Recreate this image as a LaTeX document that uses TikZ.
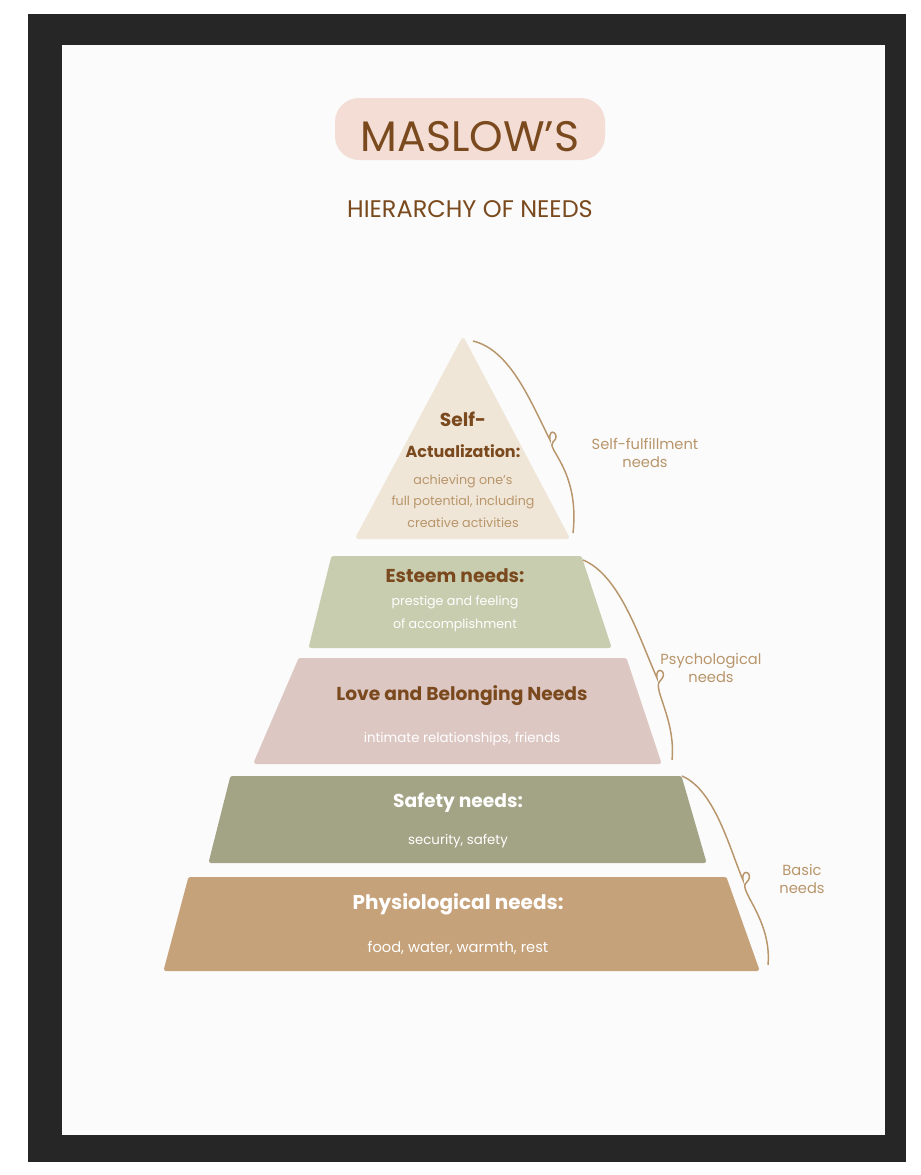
\documentclass[tikz,border=0pt]{standalone}
\usepackage{fontspec}
\setmainfont{Poppins}
\begin{document}
\begin{tikzpicture}[x=0.75pt,y=-0.75pt,
  lvl/.style={line join=round,line width=3pt},
  hd/.style={text=brn,font=\fontsize{14}{16}\selectfont\bfseries,anchor=center},
  sub/.style={font=\fontsize{10}{13}\selectfont,anchor=center,align=center},
  br/.style={draw=tan,line width=1.1pt},
  lab/.style={text=tan,font=\fontsize{11}{13}\selectfont,align=center}]
\definecolor{brn}{HTML}{7A4A1E}
\definecolor{tan}{HTML}{B8956A}
\definecolor{pk}{HTML}{F3DDD5}
\definecolor{c1}{HTML}{F0E6D8}
\definecolor{c2}{HTML}{C9CDB0}
\definecolor{c3}{HTML}{DDC7C3}
\definecolor{c4}{HTML}{A3A385}
\definecolor{c5}{HTML}{C6A27A}
\useasboundingbox (0,0) rectangle (921,1175);
\fill[white] (0,0) rectangle (921,1175);
\fill[black!85] (28,14) rectangle (906,1162);
\fill[white!97!gray] (62,45) rectangle (885,1135);
% title
\fill[pk,rounded corners=18pt] (335,98) rectangle (605,160);
\node[text=brn,font=\fontsize{32}{34}\selectfont] (t1) at (470,137) {MASLOW'S};
\node[text=brn,font=\fontsize{18}{20}\selectfont] (t2) at (470,209) {HIERARCHY OF NEEDS};
% levels
\filldraw[lvl,fill=c1,draw=c1] (463,340) -- (567,537) -- (358,537) -- cycle;
\filldraw[lvl,fill=c2,draw=c2] (333,558) -- (580,558) -- (609,646) -- (311,646) -- cycle;
\filldraw[lvl,fill=c3,draw=c3] (300,660) -- (625,660) -- (659,762) -- (256,762) -- cycle;
\filldraw[lvl,fill=c4,draw=c4] (232,778) -- (680,778) -- (704,861) -- (211,861) -- cycle;
\filldraw[lvl,fill=c5,draw=c5] (190,879) -- (725,879) -- (757,969) -- (166,969) -- cycle;
% texts
\node[hd] (a1) at (463,419) {Self-};
\node[hd,font=\fontsize{12}{14}\selectfont\bfseries] (a2) at (463,451) {Actualization:};
\node[sub,text=tan,font=\fontsize{9.5}{16}\selectfont] (a3) at (463,501) {achieving one's\\full potential, including\\creative activities};
\node[hd] (b1) at (455,576) {Esteem needs:};
\node[sub,text=white,font=\fontsize{9.5}{17}\selectfont] (b2) at (455,614) {prestige and feeling\\of accomplishment};
\node[hd] (l1) at (462,696) {Love and Belonging Needs};
\node[sub,text=white] (l2) at (462,739) {intimate relationships, friends};
\node[hd,text=white] (s1) at (458,803) {Safety needs:};
\node[sub,text=white] (s2) at (458,841) {security, safety};
\node[hd,text=white,font=\fontsize{15}{17}\selectfont\bfseries] (p1) at (458,904) {Physiological needs:};
\node[sub,text=white,font=\fontsize{11}{13}\selectfont] (p2) at (458,948) {food, water, warmth, rest};
% brackets
\draw[br] (473,341) .. controls (510,350) and (530,400) .. (550,440)
  .. controls (548,425) and (562,435) .. (553,442) .. controls (545,448) and (580,470) .. (573,533);
\draw[br] (583,560) .. controls (620,575) and (640,640) .. (657,678)
  .. controls (655,664) and (670,672) .. (660,681) .. controls (652,688) and (676,720) .. (672,760);
\draw[br] (682,776) .. controls (715,790) and (730,850) .. (743,880)
  .. controls (741,866) and (756,874) .. (746,883) .. controls (738,890) and (772,920) .. (768,965);
\node[lab] (q1) at (645,453) {Self-fulfillment\\needs};
\node[lab] (q2) at (711,668) {Psychological\\needs};
\node[lab] (q3) at (802,879) {Basic\\needs};
\end{tikzpicture}
\end{document}
